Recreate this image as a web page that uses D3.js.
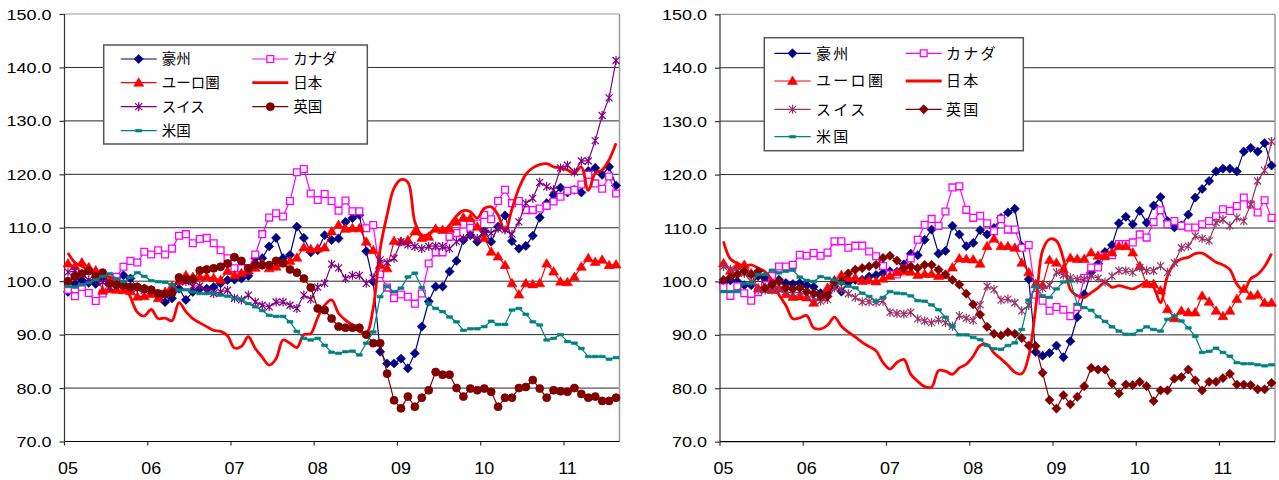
<!DOCTYPE html>
<html><head><meta charset="utf-8">
<script src="https://cdn.jsdelivr.net/npm/d3@7"></script>
<style>body{margin:0;background:#fff}svg{display:block}</style>
</head><body><svg id="c" width="1279" height="480"></svg>
<script>
// ---------- data ----------
const seriesNames = ["豪州","カナダ","ユーロ圏","日本","スイス","英国","米国"];
const yearLabels = ["05","06","07","08","09","10","11"];
const yTicks = [70,80,90,100,110,120,130,140,150];
const categories = d3.range(80).map(i => (2005 + Math.floor(i/12)) + "-" + String(i%12+1).padStart(2,"0"));

const leftAus = [98,99.5,100.2,99.7,99.5,100.5,100,100.6,101.1,100.5,98.9,98.6,98.3,97.5,96.1,96.8,98.6,96.5,98,98.6,98.6,98.9,99.6,100.2,100.3,100.5,101,104.3,104.3,106.5,108.1,104.3,104.9,110.2,108.1,105.4,105.8,108.6,107.7,108,111.1,111.8,112.4,105.6,99.9,86.8,84.6,84.6,85.5,83.7,86.5,91.5,96.2,99,99,101.8,103.8,107.7,108.6,107.4,109.3,107.4,110.2,112.3,107.5,106.1,106.6,108.5,111.9,114.6,116.1,117.5,116.6,117.1,116.6,120.6,121.2,119.9,121.4,117.9];
const leftCan = [98.4,97.2,98.9,97.8,96.3,97.7,99.9,100.8,102.7,103.8,103.5,105.5,105,105.8,105,106.1,108.5,108.8,107.1,107.9,108.1,107.1,105.8,104.3,102.4,102.4,102.4,105,108.8,111.9,112.7,112.1,115,120.4,121,116.4,115.2,116.3,115,113.2,115.1,113.1,113.1,109.9,110.5,101.3,98.8,96.8,97.5,97.1,95.8,97.7,103.3,105.4,105.4,108.3,109,110.6,110,110.8,112.4,111.6,115,117.1,114.6,115,113.3,113.3,113.6,114.1,114.9,115.8,116.9,117.1,118.1,119.9,118.3,117.3,119.6,116.4];
const leftEuro = [103.3,102.8,103.5,102.6,102,98.2,98.5,98.4,98.3,98.1,97.1,97.2,97.6,96.8,98,99.1,100,101.1,100.8,100.8,100.8,100.6,100.2,101.9,101.1,101.5,102,102.5,103.3,102.4,102.7,103.3,103.8,104.4,106.3,106,106.1,106.3,109.3,110.5,109.8,109.9,109.9,107.4,105.8,103,102.4,107.5,107.4,107.7,109.3,108.1,108.3,109.8,109.6,109.8,111.1,111.9,111.8,110.2,108.1,105.5,104.6,103,99.6,97.5,99.6,99.4,99.6,103.3,101.8,99.9,99.8,100.8,102.7,104.3,103.6,104,103,103.1];
const leftJpn = [105.3,103.5,102.8,102.1,101.5,101.1,100.8,100.2,99.7,97,94.2,93.5,94.7,93,93.1,92.6,96,94.3,93,92.2,91.5,90.8,90.6,89.8,87.5,87.8,89.6,87.4,85.8,84.3,85.5,89,88.4,87.6,90,90.2,93.2,95.5,96.5,94,92.7,91.8,90.6,90.2,95,106,112.4,117.4,119,118.5,111.1,108.6,108.8,109.9,109.3,110.5,112.2,113.2,113,111.8,113.6,113.9,112.4,109.3,113.5,117.4,120,121.2,121.8,122,121.4,121.2,120.8,120.2,121.4,117,120.2,120.8,122.7,125.8];
const leftSwi = [101.7,101.9,101.4,100.2,100.4,99.8,98.9,99.4,99.2,98.9,98.6,98.3,98.2,97.7,97.5,98.8,100.3,99.9,99.1,99.1,98.2,97.7,98,98.3,96.8,96.5,97.4,96.1,95.5,95.2,96.1,96.1,95.5,94.9,97.4,96.6,98.9,99.6,103.2,102.5,100.5,101.1,101.1,99.6,100.6,104,103.5,104.3,107.4,106.8,106.5,106.1,106.5,106.6,106.5,106.1,107.4,108,108.6,108,109.3,109,109.9,109.6,108.8,111.1,114.6,115.5,118.5,117.7,117.1,121.2,121.7,120.4,122.5,122.5,126.3,131,134.3,141.3];
const leftUk = [100,100.9,101.4,101.9,100.9,101.6,99.6,99.3,99.3,98.9,98.9,98.6,98.4,97.7,97.6,97.8,100.7,100.3,100.3,102,102.2,102.4,102.7,103.3,104.5,103.8,102.4,103.1,103,103,103.8,103.4,102.2,101.6,100.5,98.8,94.9,94.6,93,91.5,91.3,91.3,91.3,90,88.4,88.4,82.7,77.7,76.2,78.4,76.5,78.2,79.6,83,82.5,82.5,80,78.4,79.9,79.6,79.9,79.3,76.5,78.2,78.2,80,80.2,81.5,79.9,78.2,79.6,79.4,79.3,80,78.9,78.2,78.4,77.6,77.6,78.2];
const leftUs = [99,98.9,99.3,99.7,100.3,100.9,101.4,100.5,99.9,100.7,101.6,100.9,100.1,99.9,99.8,99.3,98.3,98.4,98,97.7,97.7,97.7,97.4,97.2,96.8,96.6,95.8,95.2,94.5,93.6,93.4,93.4,92.4,90.6,89.3,89,89.3,88,86.7,86.5,86.8,86.9,86.2,88.4,90.5,97.1,99,98,98.7,100.8,101.5,98.8,95.8,94.9,94.3,93.3,92.4,90.8,91.1,91.1,91.5,92.5,91.9,91.9,94.6,94.9,93.8,92.4,91.8,89,89.3,90,88.7,88.4,87.4,85.9,85.9,85.9,85.4,85.7];

const rightAus = [99.7,100.2,100,99.3,99.3,101,100.6,100.1,100.3,99.7,99.5,99.7,99.3,99,97.8,97.8,99.1,98.1,99.8,100.3,100.3,100.9,101.2,101.6,101.9,101.8,103.2,105.2,104.9,107.8,109.7,105.2,105.7,110.4,108.8,106.6,107.2,109.6,108.8,110,111.9,112.9,113.6,106.6,100.4,86.8,86.1,86.6,88,85.8,88.8,93.3,97.6,101.7,103.3,105.5,106.8,110.9,112.1,110.7,113.2,111,114.2,115.8,111.3,110.1,110.5,112.5,115.7,117.3,118.8,120.6,121.1,121.1,120.6,124.3,125,124.3,125.9,121.7];
const rightCan = [98.9,97.3,99.1,97.8,96.4,98,99.3,101,102.8,102.8,103.1,105,104.8,105.3,104.8,105.4,107.5,107.5,106.3,106.7,106.7,105.6,104.7,102.9,101.3,101.3,102.5,104.3,107.8,110.6,111.7,110.4,113.1,117.6,117.8,113.4,111.9,112.3,110.9,109.4,111.7,109.7,109.7,106.3,106.8,97.5,96.4,94.5,95.2,94.7,93.5,95.2,100.7,102.6,102.6,104.7,104.9,107,107,107.3,108.8,108.2,111.1,113.3,110.7,111.3,110.4,110.1,110.1,110.7,111.3,112.2,113.5,113.2,114.1,115.7,114.4,112.9,115.2,111.9];
const rightEuro = [103.4,102,102.9,103.1,101.5,98.7,98.6,98.4,98.7,97.6,97.1,97.2,97,96,97,98.8,100.2,101.2,100.6,100.7,100.1,100.2,100,100.5,101,101.7,101.9,101.8,101.2,101.4,101.4,101,101.2,102.6,104.3,104.2,104.1,103.3,106.6,108,106.6,106.6,106.3,103.5,101.7,99.5,99.3,104,103.5,102.3,104.4,104.2,104.2,105.4,104.8,104.8,105.4,106.6,106.6,105.4,102.9,99.5,99.5,98.3,94.8,93.1,94.5,94.2,94.2,97.3,96.2,94.5,93.5,94.5,96.7,98.6,97.3,97.5,96,96];
const rightJpn = [107.5,104.2,103.4,102.9,103.1,102.5,101.8,100.2,97.5,95.5,93,93.2,93.6,91.3,91.1,91.8,93.3,91.6,90.5,89.6,88.6,87.8,87,84.8,83.6,84.8,85.4,82.6,81.3,80.3,80.2,83.3,83.2,82.6,83.8,84.5,86,88,88.2,86.6,85.5,84.3,83,82.7,86,95,105.8,107.9,107.6,104.2,98.5,97.3,97,97.9,98.8,99.8,98.9,99.2,98.9,98.6,99.2,99.8,98.9,96,101,103.3,104.2,104.5,105.2,105.3,104.5,103.6,103.1,102.2,99.5,98.3,100.5,101.3,102.8,105.2];
const rightSwi = [102.8,102.3,101.9,101.5,100,98.4,98.4,98.4,98.5,98.1,97.8,98,97.4,96.9,96.3,96.6,98.8,98.5,97.7,97,96.2,96.2,96.1,96.3,94.2,94,93.9,94.2,93,92.6,92.3,92.8,92.3,91.6,93.6,93.1,92.7,95.6,99.1,98.5,96.5,96.7,96,94.5,95.5,99.5,98.7,99.3,101.7,101.2,100.7,100.4,100.4,101,100.6,99.9,101,102,102,101.7,102.6,102,102,102.9,101.7,103.5,106.3,106.6,108.5,108,107.6,111,111.6,110.4,111.9,111.3,114.4,118.8,120.8,126.2];
const rightUk = [100.3,100.8,101.3,101.9,101.3,101.9,98.8,99.4,100,98.8,98.6,98.8,98.1,97.8,97.3,97.2,100,100,101.5,102.2,102.5,102.8,103.1,104.4,104.8,103.9,102.5,102.8,102.5,103.1,103.1,102.2,101.3,100.3,99.4,97.7,95.7,93.8,91.5,90.2,89.9,90.5,90.2,89.4,88,87.9,82.9,77.8,76.2,78.7,77,78.4,80.4,83.8,83.5,83.5,80.9,79,80.7,80.6,81.2,80.4,77.6,79.6,79.6,81.8,82.1,83.5,81.5,79.6,81.2,81.2,81.9,82.7,80.7,80.7,80.6,79.8,79.8,81];
const rightUs = [98.1,98.1,98.1,99.6,99.6,101.3,101.3,102.1,101.6,101.9,102.1,100.8,100.2,100,100.9,100.6,100.3,99.7,99.1,98.8,97.8,97.2,96.3,97,98.1,97.8,97.7,97.3,96.4,96.3,95.6,94.7,93.3,91.6,90,90,89.5,89.1,88,87.4,87.3,88,88.5,91,96.5,99,97.3,97,98.6,99.9,100.1,95.7,95.1,94.6,93.4,92.5,91.5,90.7,90.1,90.1,90.8,91.5,91,90.7,92.9,93.6,92.6,91.3,89.7,86.7,86.9,87.5,86.7,86,84.8,84.6,84.6,84.4,84.2,84.4];

// ---------- styles (kept apart from data) ----------
const markerPaths = {
  diamond: "M0,-4.6L4.6,0L0,4.6L-4.6,0Z",
  triangle: "M0,-5L5,3.5L-5,3.5Z",
  square: "M-3.4,-3.4H3.4V3.4H-3.4Z",
  star: "M-3.5,-3.5L3.5,3.5M-3.5,3.5L3.5,-3.5M0,-4.5V4.5",
  dash: "M-3,-1.3H3V1.3H-3Z"
};
function styles(right){
  return [
    {color:"#000080", marker:"diamond", fill:"#000080", w:1.2},
    {color:"#FF00FF", marker:"square", fill:"#fff", w:1.2},
    {color:"#FF0000", marker:"triangle", fill:"#FF0000", w:1.2},
    {color:"#FF0000", marker:null, w:2.8},
    {color: right ? "#993366" : "#800080", marker:"star", fill:"none", w:1.2},
    {color:"#800000", marker: right ? "diamond" : "circle", fill:"#800000", w:1.2},
    {color:"#008080", marker:"dash", fill:"#008080", w:1.2}
  ];
}

const panels = [
  {x0:64.5, x1:619.5, yTop:14, yBot:441.5, right:false,
   data:[leftAus,leftCan,leftEuro,leftJpn,leftSwi,leftUk,leftUs],
   legend:{bx:103.7, by:45, bw:263.6, bh:99, rows:[59,82.7,106.7,130.7],
           cols:[{l0:120.7,l1:156.7,t:161.7},{l0:252.3,l1:288.3,t:293.3}], fs:14.5, ls:0}},
  {x0:720, x1:1275, yTop:14.3, yBot:441.7, right:true,
   data:[rightAus,rightCan,rightEuro,rightJpn,rightSwi,rightUk,rightUs],
   legend:{bx:764.3, by:37.7, bw:259, bh:113, rows:[53.3,81,109.3,136.7],
           cols:[{l0:774.3,l1:810.7,t:816},{l0:905.7,l1:941.7,t:946}], fs:15, ls:2.3}}
];
const legendSlots = [[0,0],[0,1],[1,0],[1,1],[2,0],[2,1],[3,0]];

const svg = d3.select("#c");
svg.append("rect").attr("width",1279).attr("height",480).attr("fill","#fff");

function drawMarker(g, kind, st, x, y){
  if (kind === "circle") {
    g.append("circle").attr("cx",x).attr("cy",y).attr("r",4).attr("fill",st.fill).attr("stroke",st.color).attr("stroke-width",0.8);
  } else {
    const p = g.append("path").attr("d", markerPaths[kind]).attr("transform",`translate(${x},${y})`);
    if (kind === "star") p.attr("fill","none").attr("stroke",st.color).attr("stroke-width",1.2);
    else if (kind === "square") p.attr("fill","#fff").attr("stroke",st.color).attr("stroke-width",1.3);
    else p.attr("fill",st.fill).attr("stroke",st.color).attr("stroke-width",0.6);
  }
}

panels.forEach(P => {
  const g = svg.append("g");
  const x = d3.scaleBand().domain(categories).range([P.x0, P.x1]).paddingInner(0).paddingOuter(0);
  const cx = c => x(c) + x.bandwidth()/2;
  const y = d3.scaleLinear().domain([70,150]).range([P.yBot, P.yTop]);
  const st = styles(P.right);

  // gridlines
  g.selectAll(".grid").data(yTicks.filter(t => t>70 && t<150)).join("line")
    .attr("x1",P.x0).attr("x2",P.x1).attr("y1",d=>y(d)).attr("y2",d=>y(d))
    .attr("stroke","#2a2a2a").attr("stroke-width",1);
  // plot border top/right
  g.append("line").attr("x1",P.x0).attr("x2",P.x1).attr("y1",y(150)).attr("y2",y(150)).attr("stroke","#9a9a9a").attr("stroke-width",1.2);
  g.append("line").attr("x1",P.x1).attr("x2",P.x1).attr("y1",y(150)).attr("y2",y(70)).attr("stroke","#9a9a9a").attr("stroke-width",1.5);

  // y axis
  const yAxis = d3.axisLeft(y).tickValues(yTicks).tickSize(5).tickFormat(() => "");
  const ya = g.append("g").attr("transform",`translate(${P.x0},0)`).call(yAxis);
  ya.selectAll("path,line").attr("stroke","#333").attr("stroke-width",1.2);
  ya.select(".domain").attr("d",`M-0,${P.yTop}V${P.yBot}`);
  yTicks.forEach(t => {
    g.append("text").attr("transform",`translate(${P.x0-13},${y(t)+5.6}) scale(1.16,1)`)
      .attr("text-anchor","end").attr("font-family","Liberation Sans, Arial, sans-serif")
      .attr("font-size",15.5).attr("fill","#000").text(d3.format(".1f")(t));
  });

  // x axis
  const yearCats = yearLabels.map((_,k) => categories[k*12]);
  g.append("line").attr("x1",P.x0).attr("x2",P.x1).attr("y1",P.yBot).attr("y2",P.yBot).attr("stroke","#000").attr("stroke-width",1.2);
  yearCats.forEach((c,k) => {
    g.append("line").attr("x1",x(c)).attr("x2",x(c)).attr("y1",P.yBot).attr("y2",P.yBot+4).attr("stroke","#333").attr("stroke-width",1.2);
    g.append("text").attr("transform",`translate(${cx(c)},${P.yBot+32}) scale(1.12,1)`)
      .attr("text-anchor","middle").attr("font-family","Liberation Sans, Arial, sans-serif")
      .attr("font-size",16).attr("fill","#000").text(yearLabels[k]);
  });

  // series
  P.data.forEach((vals, si) => {
    const s = st[si];
    const line = d3.line().x((d,i)=>cx(categories[i])).y(d=>y(d));
    if (s.marker === null) line.curve(d3.curveCatmullRom.alpha(0.5));
    g.append("path").datum(vals).attr("d",line).attr("fill","none")
      .attr("stroke",s.color).attr("stroke-width",s.w).attr("stroke-linejoin","round");
    if (s.marker) {
      const mg = g.append("g");
      vals.forEach((v,i) => drawMarker(mg, s.marker, s, cx(categories[i]), y(v)));
    }
  });

  // legend
  const L = P.legend;
  const lg = g.append("g");
  lg.append("rect").attr("x",L.bx).attr("y",L.by).attr("width",L.bw).attr("height",L.bh)
    .attr("fill","#fff").attr("stroke","#555").attr("stroke-width",1.5);
  seriesNames.forEach((name, si) => {
    const [r,c] = legendSlots[si];
    const col = L.cols[c], ry = L.rows[r], s = st[si];
    lg.append("line").attr("x1",col.l0).attr("x2",col.l1).attr("y1",ry).attr("y2",ry)
      .attr("stroke",s.color).attr("stroke-width", s.marker ? 1.2 : 2.8);
    if (s.marker) drawMarker(lg, s.marker, s, (col.l0+col.l1)/2, ry);
    lg.append("text").attr("x",col.t).attr("y",ry+5.2)
      .attr("font-family","Noto Sans CJK JP, sans-serif").attr("font-size",L.fs)
      .attr("letter-spacing",L.ls).attr("fill","#000").text(name);
  });
});
</script></body></html>
